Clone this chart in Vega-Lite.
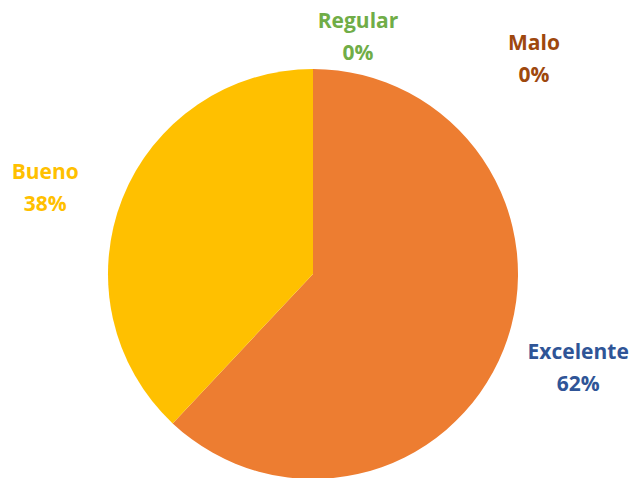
{
  "$schema": "https://vega.github.io/schema/vega-lite/v6.json",
  "autosize": {"type": "none"},
  "width": 600,
  "height": 400,
  "padding": {"left": 13, "top": 74, "right": 21, "bottom": 4},
  "background": "white",
  "config": {"view": {"stroke": null}},
  "data": {"values": [
    {"cat": "Excelente", "value": 62, "i": 1},
    {"cat": "Bueno", "value": 38, "i": 2},
    {"cat": "Regular", "value": 0, "i": 3},
    {"cat": "Malo", "value": 0, "i": 4}
  ]},
  "transform": [{"calculate": "datum.cat + '\\n' + datum.value + '%'", "as": "label"}],
  "encoding": {
    "theta": {"field": "value", "type": "quantitative", "stack": true},
    "order": {"field": "i", "type": "quantitative", "sort": "ascending"}
  },
  "layer": [
    {
      "mark": {"type": "arc", "outerRadius": 205},
      "encoding": {
        "color": {"field": "cat", "type": "nominal", "legend": null,
          "scale": {"domain": ["Excelente", "Bueno", "Regular", "Malo"], "range": ["#ED7D31", "#FFC000", "#A5A5A5", "#4472C4"]}}
      }
    },
    {
      "mark": {"type": "text", "radius": 268, "dx": 16, "dy": -20, "font": "Open Sans", "fontWeight": "bold", "fontSize": 21, "lineBreak": "\n", "lineHeight": 32, "baseline": "middle"},
      "encoding": {
        "text": {"condition": {"test": "datum.cat === 'Excelente'", "field": "label"}, "value": ""},
        "color": {"field": "cat", "type": "nominal", "legend": null, "scale": {"domain": ["Excelente", "Bueno", "Regular", "Malo"], "range": ["#2F5597", "#FFC000", "#70AD47", "#9E480E"]}}
      }
    },
    {
      "mark": {"type": "text", "radius": 288, "dy": 5, "font": "Open Sans", "fontWeight": "bold", "fontSize": 21, "lineBreak": "\n", "lineHeight": 32, "baseline": "middle"},
      "encoding": {
        "text": {"condition": {"test": "datum.cat === 'Bueno'", "field": "label"}, "value": ""},
        "color": {"field": "cat", "type": "nominal", "legend": null, "scale": {"domain": ["Excelente", "Bueno", "Regular", "Malo"], "range": ["#2F5597", "#FFC000", "#70AD47", "#9E480E"]}}
      }
    },
    {
      "mark": {"type": "text", "radius": 252, "dx": 45, "font": "Open Sans", "fontWeight": "bold", "fontSize": 21, "lineBreak": "\n", "lineHeight": 32, "baseline": "middle"},
      "encoding": {
        "text": {"condition": {"test": "datum.cat === 'Regular'", "field": "label"}, "value": ""},
        "color": {"field": "cat", "type": "nominal", "legend": null, "scale": {"domain": ["Excelente", "Bueno", "Regular", "Malo"], "range": ["#2F5597", "#FFC000", "#70AD47", "#9E480E"]}}
      }
    },
    {
      "mark": {"type": "text", "radius": 252, "dx": 221, "dy": 22, "font": "Open Sans", "fontWeight": "bold", "fontSize": 21, "lineBreak": "\n", "lineHeight": 32, "baseline": "middle"},
      "encoding": {
        "text": {"condition": {"test": "datum.cat === 'Malo'", "field": "label"}, "value": ""},
        "color": {"field": "cat", "type": "nominal", "legend": null, "scale": {"domain": ["Excelente", "Bueno", "Regular", "Malo"], "range": ["#2F5597", "#FFC000", "#70AD47", "#9E480E"]}}
      }
    }
  ],
  "resolve": {"scale": {"color": "independent"}}
}
